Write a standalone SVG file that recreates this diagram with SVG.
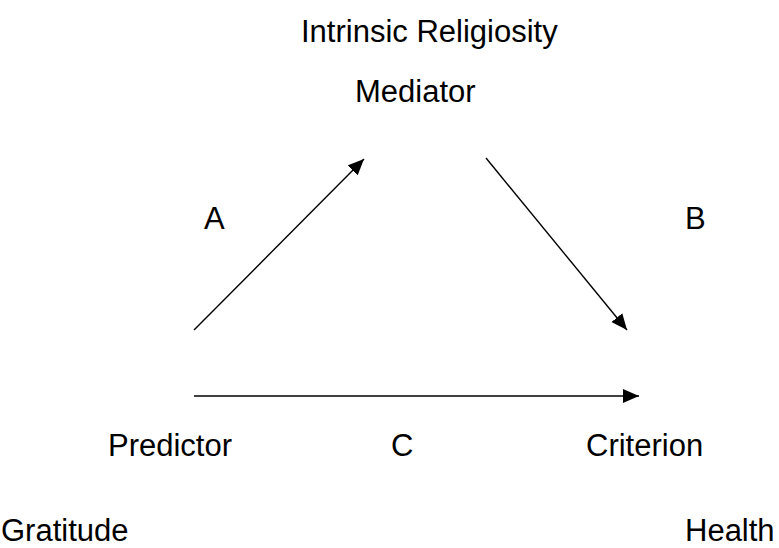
<svg xmlns="http://www.w3.org/2000/svg" width="779" height="548" viewBox="0 0 779 548">
<style>
text { font-family: "Liberation Sans", Arial, sans-serif; font-size: 31px; fill: #000; }
.conn { stroke: #000; stroke-width: 1.4; fill: none; }
</style>
<defs>
<marker id="arr" markerUnits="userSpaceOnUse" markerWidth="18" markerHeight="16" refX="16" refY="7" orient="auto">
<path d="M0,0 L16,7 L0,14 Z" fill="#000"/>
</marker>
</defs>
<rect width="779" height="548" fill="#fff"/>
<g id="mediator">
<text x="301" y="42">Intrinsic Religiosity</text>
<text x="355" y="102">Mediator</text>
</g>
<g id="predictor">
<text x="108" y="456">Predictor</text>
<text x="1" y="541">Gratitude</text>
</g>
<g id="criterion">
<text x="586" y="456">Criterion</text>
<text x="685" y="541">Health</text>
</g>
<g id="labels">
<text x="204" y="229">A</text>
<text x="685" y="229">B</text>
<text x="391" y="456">C</text>
</g>
<g id="connectors">
<line class="conn" x1="194" y1="330" x2="364" y2="159" marker-end="url(#arr)"/>
<line class="conn" x1="486" y1="158" x2="627" y2="330" marker-end="url(#arr)"/>
<line class="conn" x1="194" y1="396" x2="639" y2="396" marker-end="url(#arr)"/>
</g>
</svg>
